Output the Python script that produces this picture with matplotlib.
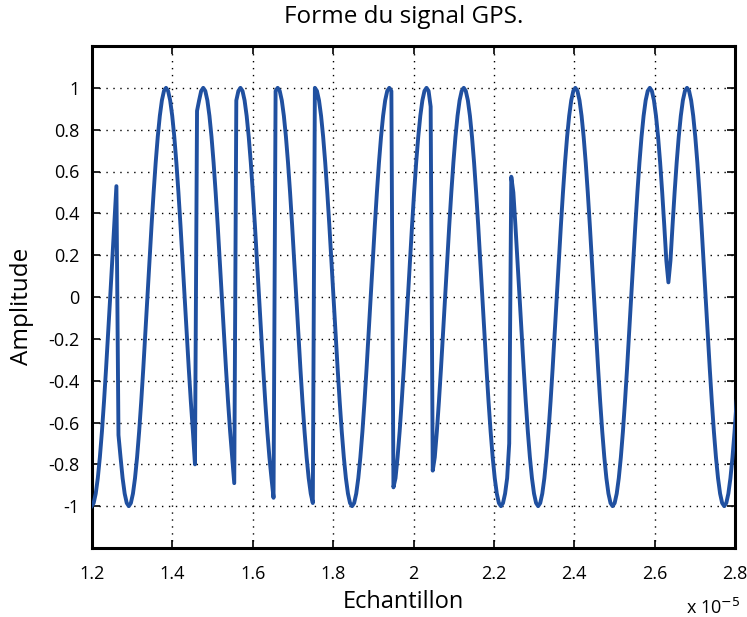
import numpy as np
import matplotlib
matplotlib.use("Agg")
import matplotlib.pyplot as plt

# ---- data (x in units of 1e-5) ----
t_start = 1.199          # first sample instant
t_step = 0.0051444       # sample spacing
amplitude = [
    # samples 0-12
    -1, -0.985, -0.94, -0.866, -0.766, -0.643, -0.5, -0.342, -0.174, 0, 0.174, 0.342, 0.53,
    # 13-50
    -0.66, -0.766, -0.866, -0.94, -0.985, -1, -0.985, -0.94, -0.866, -0.766, -0.643, -0.5,
    -0.342, -0.174, 0, 0.174, 0.342, 0.5, 0.643, 0.766, 0.866, 0.94, 0.985, 1, 0.985, 0.94,
    0.866, 0.766, 0.643, 0.5, 0.342, 0.174, 0, -0.174, -0.342, -0.5, -0.643, -0.8,
    # 51-69
    0.89, 0.94, 0.985, 1, 0.985, 0.94, 0.866, 0.766, 0.643, 0.5, 0.342, 0.174, 0, -0.174,
    -0.342, -0.5, -0.643, -0.766, -0.89,
    # 70-88
    0.94, 0.985, 1, 0.985, 0.94, 0.866, 0.766, 0.643, 0.5, 0.342, 0.174, 0, -0.174, -0.342,
    -0.5, -0.643, -0.766, -0.866, -0.96,
    # 89-107
    0.985, 1, 0.985, 0.94, 0.866, 0.766, 0.643, 0.5, 0.342, 0.174, 0, -0.174, -0.342, -0.5,
    -0.643, -0.766, -0.866, -0.94, -0.985,
    # 108-145
    1, 0.985, 0.94, 0.866, 0.766, 0.643, 0.5, 0.342, 0.174, 0, -0.174, -0.342, -0.5, -0.643,
    -0.766, -0.866, -0.94, -0.985, -1, -0.985, -0.94, -0.866, -0.766, -0.643, -0.5, -0.342,
    -0.174, 0, 0.174, 0.342, 0.5, 0.643, 0.766, 0.866, 0.94, 0.985, 1, 0.985,
    # 146-164
    -0.91, -0.866, -0.766, -0.643, -0.5, -0.342, -0.174, 0, 0.174, 0.342, 0.5, 0.643, 0.766,
    0.866, 0.94, 0.985, 1, 0.985, 0.91,
    # 165-202
    -0.83, -0.766, -0.643, -0.5, -0.342, -0.174, 0, 0.174, 0.342, 0.5, 0.643, 0.766, 0.866,
    0.94, 0.985, 1, 0.985, 0.94, 0.866, 0.766, 0.643, 0.5, 0.342, 0.174, 0, -0.174, -0.342,
    -0.5, -0.643, -0.766, -0.866, -0.94, -0.985, -1, -0.985, -0.94, -0.866, -0.7,
    # 203-279
    0.575, 0.5, 0.342, 0.174, 0, -0.174, -0.342, -0.5, -0.643, -0.766, -0.866, -0.94, -0.985,
    -1, -0.985, -0.94, -0.866, -0.766, -0.643, -0.5, -0.342, -0.174, 0, 0.174, 0.342, 0.5,
    0.643, 0.766, 0.866, 0.94, 0.985, 1, 0.985, 0.94, 0.866, 0.766, 0.643, 0.5, 0.342, 0.174,
    0, -0.174, -0.342, -0.5, -0.643, -0.766, -0.866, -0.94, -0.985, -1, -0.985, -0.94, -0.866,
    -0.766, -0.643, -0.5, -0.342, -0.174, 0, 0.174, 0.342, 0.5, 0.643, 0.766, 0.866, 0.94,
    0.985, 1, 0.985, 0.94, 0.866, 0.766, 0.643, 0.5, 0.342, 0.174, 0.07,
    # 280-312
    0.174, 0.342, 0.5, 0.643, 0.766, 0.866, 0.94, 0.985, 1, 0.985, 0.94, 0.866, 0.766, 0.643,
    0.5, 0.342, 0.174, 0, -0.174, -0.342, -0.5, -0.643, -0.766, -0.866, -0.94, -0.985, -1,
    -0.985, -0.94, -0.866, -0.766, -0.643, -0.5,
]
sample_time = t_start + t_step * np.arange(len(amplitude))

x_ticks = [1.2, 1.4, 1.6, 1.8, 2.0, 2.2, 2.4, 2.6, 2.8]
x_tick_labels = ["1.2", "1.4", "1.6", "1.8", "2", "2.2", "2.4", "2.6", "2.8"]
y_ticks = [-1, -0.8, -0.6, -0.4, -0.2, 0, 0.2, 0.4, 0.6, 0.8, 1]
y_tick_labels = ["-1", "-0.8", "-0.6", "-0.4", "-0.2", "0", "0.2", "0.4", "0.6", "0.8", "1"]

plt.rcParams["font.family"] = ["Open Sans", "DejaVu Sans"]

fig = plt.figure(figsize=(7.47, 6.17), dpi=100)
ax = fig.add_axes([92 / 747, 1 - 548 / 617, (735 - 92) / 747, (548 - 46) / 617])

ax.plot(sample_time, amplitude, color="#2050a0", lw=2.8, solid_joinstyle="round", zorder=3)

ax.set_xlim(1.2, 2.8)
ax.set_ylim(-1.2, 1.2)
ax.set_xticks(x_ticks)
ax.set_xticklabels(x_tick_labels)
ax.set_yticks(y_ticks)
ax.set_yticklabels(y_tick_labels)
ax.grid(True, color="black", linestyle=(0, (1, 4)), linewidth=1.0)
ax.tick_params(direction="in", length=6, width=1.2, top=True, right=True,
               labelsize=13, colors="black")
ax.tick_params(axis="x", pad=12)
ax.tick_params(axis="y", pad=9)
for s in ax.spines.values():
    s.set_linewidth(2.2)
    s.set_color("black")

ax.set_title("Forme du signal GPS.", fontsize=17.5, x=0.485, y=1.058, pad=0, va="center")
ax.set_xlabel("Echantillon", fontsize=17, va="center")
ax.xaxis.set_label_coords(0.485, -0.107)
ax.set_ylabel("Amplitude", fontsize=17.5, va="center")
ax.yaxis.set_label_coords(-0.109, 0.482)
ax.text(1.008, -0.1, r"x 10$^{-5}$", transform=ax.transAxes, ha="right", va="top",
        fontsize=13)

fig.savefig("out.png", dpi=100)
